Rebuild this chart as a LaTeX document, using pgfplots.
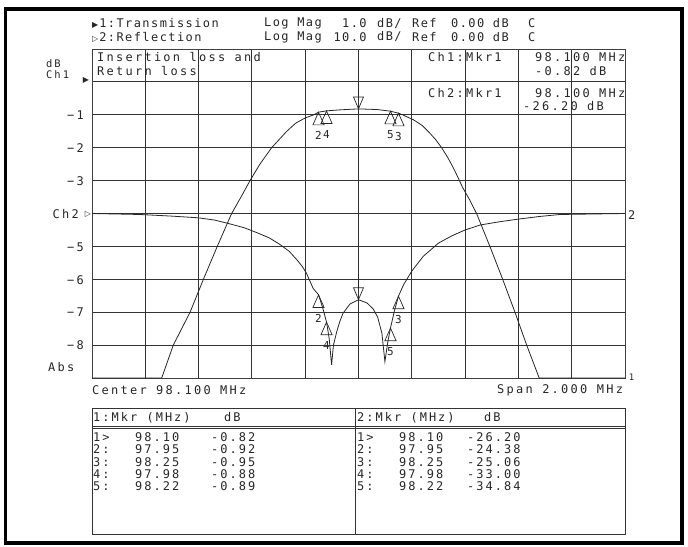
\documentclass[border=0pt]{standalone}
\usepackage{pgfplots}
\pgfplotsset{compat=1.18}
\usepackage{fontspec}
\setmainfont{DejaVu Sans Mono}[LetterSpace=19]
\newfontfamily\tabfont{DejaVu Sans Mono}[LetterSpace=17]
\newfontfamily\hdfont{DejaVu Sans Mono}[LetterSpace=12]
\newfontfamily\sym{DejaVu Sans}
\begin{document}
\begin{tikzpicture}[x=1bp,y=-1bp,font=\fontsize{12}{13}\selectfont, every node/.style={text=black!85, inner sep=0pt}]
\useasboundingbox (0,0) rectangle (688,547);
\draw[line width=3.5bp] (5.5,9) rectangle (682,543);
\begin{axis}[at={(92bp,-378bp)}, anchor=south west, width=533bp, height=329bp, scale only axis,
  xmin=97.1, xmax=99.1, ymin=-9, ymax=1,
  xtick={97.3,97.5,97.7,97.9,98.1,98.3,98.5,98.7,98.9},
  ytick={-8,-7,-6,-5,-4,-3,-2,-1,0},
  xticklabels={}, yticklabels={},
  major tick length=0pt,
  grid=major, major grid style={black!80, line width=0.9bp},
  axis line style={black!75, line width=0.9bp},
  clip=true]
% Ch1 transmission (1 dB/div, ref 0 dB at division 0)
\addplot[black!85, line width=0.8bp] coordinates {
(97.10,-9) (97.3615,-9) (97.405,-8) (97.468,-7) (97.518,-6) (97.570,-5) (97.624,-4)
(97.659,-3.5) (97.693,-3) (97.730,-2.5) (97.774,-2) (97.831,-1.5) (97.865,-1.25)
(97.899,-1.1) (97.932,-1.0) (97.95,-0.92)
(97.98,-0.88) (98.03,-0.85) (98.10,-0.82) (98.17,-0.84) (98.22,-0.89) (98.25,-0.95)
(98.265,-1.0) (98.306,-1.15) (98.34,-1.33) (98.368,-1.56) (98.39,-1.76) (98.412,-2)
(98.435,-2.3) (98.455,-2.6) (98.473,-2.9) (98.49,-3.2) (98.518,-3.6) (98.543,-4)
(98.593,-5) (98.641,-6) (98.687,-7) (98.731,-8) (98.778,-9) (99.10,-9)};
% Ch2 reflection (10 dB/div, ref 0 dB at division -4)
\addplot[black!85, line width=0.8bp] coordinates {
(97.10,-4.0) (97.28,-4.03) (97.40,-4.08) (97.498,-4.13) (97.56,-4.2) (97.61,-4.3) (97.67,-4.43) (97.718,-4.58) (97.765,-4.74) (97.805,-4.94)
(97.84,-5.15) (97.868,-5.4) (97.89,-5.62) (97.905,-5.82) (97.93,-6.28) (97.95,-6.47) (97.965,-6.85) (97.98,-7.3)
(97.99,-7.8) (97.999,-8.6) (98.006,-8.0) (98.018,-7.6) (98.03,-7.28) (98.042,-7.03) (98.068,-6.75)
(98.10,-6.62) (98.132,-6.72) (98.155,-6.9) (98.172,-7.15) (98.188,-7.65) (98.199,-8.5) (98.21,-7.9)
(98.22,-7.48) (98.235,-6.95) (98.25,-6.51) (98.27,-6.15) (98.30,-5.75) (98.343,-5.3) (98.40,-4.9)
(98.45,-4.68) (98.50,-4.5) (98.556,-4.35) (98.63,-4.25) (98.70,-4.17) (98.78,-4.09) (98.856,-4.03) (99.10,-4.0)};
% up-pointing markers with labels
\addplot[only marks, mark=triangle, mark size=6.5, mark options={draw=black!85, fill=none, line width=0.7bp, yshift=-8.5bp, yscale=1.3},
  point meta=explicit symbolic, nodes near coords,
  every node near coord/.append style={anchor=center, yshift=-15bp, inner sep=0pt, text=black!85, font=\fontsize{11}{12}\selectfont}]
  coordinates {(97.95,-0.92) [2] (97.98,-0.88) [4] (98.22,-0.89) [5] (98.25,-0.95) [3]
  (97.95,-6.47) [2] (97.98,-7.30) [4] (98.22,-7.48) [5] (98.25,-6.51) [3]};
% marker 1 (down-pointing)
\addplot[only marks, mark=triangle, mark size=5.8, mark options={draw=black!85, fill=none, line width=0.7bp, yshift=8bp, yscale=-1.35}]
  coordinates {(98.10,-0.82) (98.10,-6.62)};
\addplot[only marks, mark=|, mark size=6.5, mark options={draw=black!85, line width=0.6bp, yshift=18.5bp}]
  coordinates {(98.10,-0.82) (98.10,-6.62)};
\end{axis}
% header
\begin{scope}[every node/.append style={font=\hdfont\fontsize{12}{13}\selectfont}]
\node[anchor=west] at (92,23.5) {{\sym\fontsize{8}{8}\selectfont ▶}\kern1bp 1:Transmission};
\node[anchor=west] at (92,37) {{\sym\fontsize{8}{8}\selectfont ▷}\kern1bp 2:Reflection};
\node[anchor=west] at (264,23.5) {Log Mag};
\node[anchor=west] at (264,37) {Log Mag};
\node[anchor=west] at (342,23.5) {1.0};
\node[anchor=west] at (333.3,37) {10.0};
\node[anchor=west] at (377,23.5) {dB/};
\node[anchor=west] at (377,37) {dB/};
\node[anchor=west] at (412,23.5) {Ref};
\node[anchor=west] at (412,37) {Ref};
\node[anchor=west] at (451,23.5) {0.00 dB};
\node[anchor=west] at (451,37) {0.00 dB};
\node[anchor=west] at (528,23.5) {C};
\node[anchor=west] at (528,37) {C};
\end{scope}
% inside annotations
\node[anchor=west] at (97,57.5) {Insertion loss and};
\node[anchor=west] at (97,71) {Return loss};
\node[anchor=west] at (428,57.5) {Ch1:Mkr1};
\node[anchor=west] at (535,57.5) {98.100 MHz};
\node[anchor=west] at (535,71) {-0.82 dB};
\node[anchor=west] at (428,93) {Ch2:Mkr1};
\node[anchor=west] at (535,93) {98.100 MHz};
\node[anchor=west] at (523,106) {-26.20 dB};
% left labels
\node[anchor=west, font=\fontsize{10.5}{11}\selectfont] at (46,64) {dB};
\node[anchor=west, font=\fontsize{10.5}{11}\selectfont] at (46,75) {Ch1};
\node[anchor=center] at (86,80.5) {\sym\fontsize{8}{8}\selectfont ▶};
\foreach \v/\yy in {1/115,2/148,3/181,5/247,6/280,7/312.5,8/345}
  \node[anchor=east] at (84,\yy) {−\v};
\node[anchor=east] at (79,214) {Ch2};
\node[anchor=center] at (88,214) {\sym\fontsize{8}{8}\selectfont ▷};
\node[anchor=west] at (48,367) {Abs};
\node[anchor=west] at (628,215) {2};
\node[anchor=center] at (631.5,377) {\fontsize{9}{9}\selectfont 1};
\node[anchor=west] at (92,390) {Center 98.100 MHz};
\node[anchor=west] at (497,390) {Span 2.000 MHz};
% table
\draw[black!80, line width=0.9bp] (92,408) rectangle (625,534);
\draw[black!80, line width=0.9bp] (355,408) -- (355,534);
\draw[black!80, line width=0.7bp] (92,426) -- (625,426);
\draw[black!80, line width=0.7bp] (92,428.5) -- (625,428.5);
\tabfont\fontsize{11}{12}\selectfont
\node[anchor=west] at (93,417.5) {1:Mkr (MHz)};
\node[anchor=west] at (224,417.5) {dB};
\node[anchor=west] at (357,417.5) {2:Mkr (MHz)};
\node[anchor=west] at (484,417.5) {dB};
\foreach \n/\f/\a/\b [count=\i] in {1>/98.10/-0.82/-26.20, 2:/97.95/-0.92/-24.38, 3:/98.25/-0.95/-25.06, 4:/97.98/-0.88/-33.00, 5:/98.22/-0.89/-34.84}{
  \pgfmathsetmacro\yy{437+(\i-1)*12.4}
  \node[anchor=west] at (93,\yy) {\n};
  \node[anchor=west] at (135,\yy) {\f};
  \node[anchor=west] at (211,\yy) {\a};
  \node[anchor=west] at (357,\yy) {\n};
  \node[anchor=west] at (399,\yy) {\f};
  \node[anchor=west] at (467,\yy) {\b};
}
\end{tikzpicture}
\end{document}
